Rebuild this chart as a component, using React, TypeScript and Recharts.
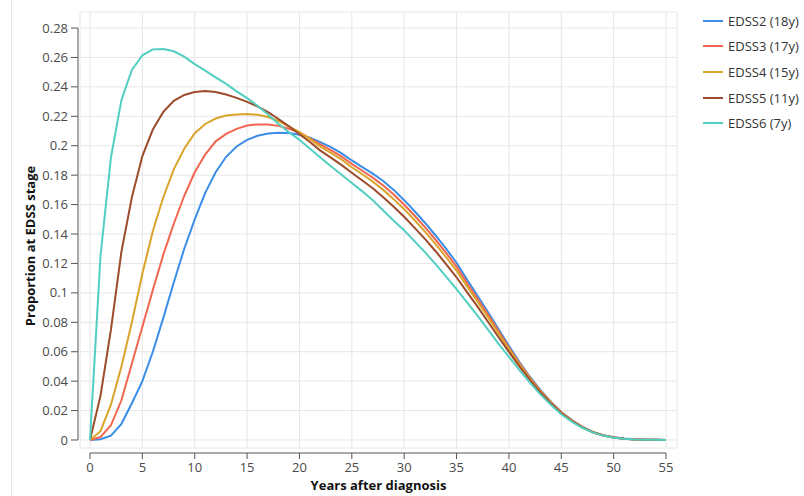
import React from 'react';
import { LineChart, Line, XAxis, YAxis, CartesianGrid, ReferenceLine, Legend, Label } from 'recharts';

const years = [
  0, 1, 2, 3, 4, 5, 6, 7, 8, 9, 10, 11, 12, 13, 14, 15, 16, 17, 18, 19, 20, 21, 22, 23, 24, 25, 26, 27,
  28, 29, 30, 31, 32, 33, 34, 35, 36, 37, 38, 39, 40, 41, 42, 43, 44, 45, 46, 47, 48, 49, 50, 51, 52, 53, 54, 55,
];

const edss2 = [
  0, 0.0005, 0.003, 0.011, 0.025, 0.04, 0.06, 0.083, 0.107, 0.13, 0.15, 0.168, 0.182, 0.1925, 0.1995, 0.204,
  0.2068, 0.2083, 0.2089, 0.2087, 0.2075, 0.2055, 0.2025, 0.199, 0.195, 0.19, 0.1855, 0.181, 0.176, 0.17, 0.163,
  0.1555, 0.1475, 0.139, 0.13, 0.1205, 0.109, 0.098, 0.087, 0.0755, 0.064, 0.053, 0.043, 0.034, 0.026, 0.019,
  0.0135, 0.009, 0.0055, 0.0032, 0.0018, 0.001, 0.0005, 0.0002, 0.0001, 0,
];

const edss3 = [
  0, 0.002, 0.01, 0.027, 0.052, 0.077, 0.102, 0.126, 0.147, 0.166, 0.182, 0.194, 0.203, 0.208, 0.2115, 0.2138,
  0.2145, 0.2145, 0.2135, 0.2115, 0.209, 0.205, 0.2009, 0.197, 0.1928, 0.1877, 0.183, 0.1783, 0.173, 0.1669, 0.1599,
  0.1524, 0.1445, 0.1361, 0.1272, 0.1178, 0.1067, 0.096, 0.0852, 0.074, 0.0629, 0.0522, 0.0424, 0.0336, 0.0257, 0.0188,
  0.0134, 0.0089, 0.0055, 0.0032, 0.0018, 0.0009, 0.0005, 0.0002, 0.0001, 0,
];

const edss4 = [
  0, 0.006, 0.024, 0.05, 0.08, 0.113, 0.142, 0.165, 0.184, 0.198, 0.2085, 0.2148, 0.2185, 0.2205, 0.2213, 0.2215,
  0.221, 0.2195, 0.2168, 0.2132, 0.2093, 0.2045, 0.1994, 0.1951, 0.1907, 0.1854, 0.1806, 0.1756, 0.17, 0.1637, 0.1569,
  0.1494, 0.1415, 0.1332, 0.1243, 0.1151, 0.1044, 0.094, 0.0834, 0.0725, 0.0618, 0.0514, 0.0418, 0.0331, 0.0254, 0.0186,
  0.0132, 0.0088, 0.0054, 0.0031, 0.0017, 0.0009, 0.0004, 0.0002, 0.0001, 0,
];

const edss5 = [
  0, 0.03, 0.075, 0.128, 0.165, 0.193, 0.211, 0.223, 0.2305, 0.2345, 0.2365, 0.2372, 0.2365, 0.2348, 0.2325, 0.2298,
  0.2268, 0.2228, 0.2182, 0.2132, 0.2078, 0.2025, 0.1967, 0.1919, 0.187, 0.1816, 0.1764, 0.1711, 0.165, 0.1585, 0.1517,
  0.1442, 0.1365, 0.1283, 0.1196, 0.1106, 0.1005, 0.0906, 0.0804, 0.07, 0.0599, 0.05, 0.0408, 0.0324, 0.0249, 0.0182,
  0.013, 0.0086, 0.0053, 0.0031, 0.0017, 0.0009, 0.0004, 0.0002, 0.0001, 0,
];

const edss6 = [
  0, 0.125, 0.192, 0.231, 0.2515, 0.2615, 0.2655, 0.2657, 0.2642, 0.2605, 0.2555, 0.251, 0.2465, 0.242, 0.237, 0.2324,
  0.2272, 0.2212, 0.2148, 0.2092, 0.204, 0.198, 0.192, 0.186, 0.1805, 0.1747, 0.169, 0.163, 0.156, 0.149, 0.1425,
  0.135, 0.1275, 0.1195, 0.111, 0.1025, 0.0935, 0.0845, 0.075, 0.0655, 0.0565, 0.0475, 0.039, 0.031, 0.024, 0.0175,
  0.0125, 0.0083, 0.0052, 0.003, 0.0016, 0.0008, 0.0004, 0.0002, 0.0001, 0,
];

const seriesNames = ['EDSS2 (18y)', 'EDSS3 (17y)', 'EDSS4 (15y)', 'EDSS5 (11y)', 'EDSS6 (7y)'];
const seriesKeys = ['edss2', 'edss3', 'edss4', 'edss5', 'edss6'];
const seriesValues = [edss2, edss3, edss4, edss5, edss6];
const seriesColors = ['#3a8ee8', '#f2664f', '#d9a42a', '#9c4b2b', '#52cfc2'];

const xTicks = [0, 5, 10, 15, 20, 25, 30, 35, 40, 45, 50, 55];
const yTicks = [0, 0.02, 0.04, 0.06, 0.08, 0.1, 0.12, 0.14, 0.16, 0.18, 0.2, 0.22, 0.24, 0.26, 0.28];

const xTitle = 'Years after diagnosis';
const yTitle = 'Proportion at EDSS stage';

// axis extents (data units) for the padded, offset axes
const X_DOMAIN: [number, number] = [-0.955, 56.05];
const Y_DOMAIN: [number, number] = [-0.00544, 0.2909];
const X_AXIS_AT_Y = -0.00884;
const Y_AXIS_AT_X = -1.146;

const data = years.map((year, i) => {
  const row: Record<string, number> = { year };
  seriesKeys.forEach((k, s) => {
    row[k] = seriesValues[s][i];
  });
  return row;
});

const AXIS_COLOR = '#555555';
const TICK_TEXT = '#4a4a4a';

const XTick = (props: any) => {
  const { x, y, payload } = props;
  return (
    <g>
      <line x1={x} x2={x} y1={y + 5} y2={y + 11} stroke={AXIS_COLOR} strokeWidth={1} />
      <text x={x} y={y + 24} textAnchor="middle" fill={TICK_TEXT} fontSize={13}>
        {payload.value}
      </text>
    </g>
  );
};

const YTick = (props: any) => {
  const { x, y, payload } = props;
  return (
    <g>
      <line x1={x - 9} x2={x - 2} y1={y} y2={y} stroke={AXIS_COLOR} strokeWidth={1} />
      <text x={x - 12} y={y} dy="0.35em" textAnchor="end" fill={TICK_TEXT} fontSize={13}>
        {payload.value}
      </text>
    </g>
  );
};

const renderLegend = (props: any) => {
  const payload = props.payload || [];
  return (
    <div>
      {payload.map((entry: any, i: number) => (
        <div
          key={i}
          style={{ display: 'flex', alignItems: 'center', height: 25.6, fontSize: 13, color: '#333' }}
        >
          <svg width={20} height={4} style={{ marginRight: 5 }}>
            <line x1={0} x2={20} y1={2} y2={2} stroke={entry.color} strokeWidth={2} />
          </svg>
          <span>{entry.value}</span>
        </div>
      ))}
    </div>
  );
};

export default function App() {
  return (
    <div
      style={{
        position: 'absolute',
        left: 0,
        top: 0,
        width: 804,
        height: 496,
        background: '#fff',
        fontFamily: '"Open Sans", "Noto Sans", sans-serif',
      }}
    >
      <div style={{ position: 'absolute', left: 11, top: 0, width: 1, height: 496, background: '#e8e8e8' }} />
      <LineChart width={804} height={496} data={data} margin={{ top: 12, right: 127, bottom: 0, left: 0 }}>
        <CartesianGrid stroke="#e6e6e6" strokeWidth={1} />
        <XAxis
          dataKey="year"
          type="number"
          domain={X_DOMAIN}
          ticks={xTicks}
          interval={0}
          height={48}
          axisLine={false}
          tickLine={false}
          tickSize={0}
          tickMargin={0}
          tick={<XTick />}
        >
          <Label
            value={xTitle}
            position="insideBottom"
            offset={6}
            style={{ fontWeight: 700, fontSize: 13, fill: '#111' }}
          />
        </XAxis>
        <YAxis
          type="number"
          domain={Y_DOMAIN}
          ticks={yTicks}
          interval={0}
          width={80}
          axisLine={false}
          tickLine={false}
          tickSize={0}
          tickMargin={0}
          tick={<YTick />}
        >
          <Label
            content={(p: any) => {
              const vb = p.viewBox || { x: 0, y: 0, width: 0, height: 0 };
              const cx = vb.x + 35;
              const cy = vb.y + vb.height / 2 + 16;
              return (
                <text
                  x={cx}
                  y={cy}
                  transform={`rotate(-90, ${cx}, ${cy})`}
                  textAnchor="middle"
                  fontWeight={700}
                  fontSize={13}
                  fill="#111"
                >
                  {yTitle}
                </text>
              );
            }}
          />
        </YAxis>
        <ReferenceLine
          segment={[
            { x: xTicks[0], y: X_AXIS_AT_Y },
            { x: xTicks[xTicks.length - 1], y: X_AXIS_AT_Y },
          ]}
          stroke={AXIS_COLOR}
          strokeWidth={1}
          ifOverflow="visible"
        />
        <ReferenceLine
          segment={[
            { x: Y_AXIS_AT_X, y: yTicks[0] },
            { x: Y_AXIS_AT_X, y: yTicks[yTicks.length - 1] },
          ]}
          stroke={AXIS_COLOR}
          strokeWidth={1}
          ifOverflow="visible"
        />
        {seriesKeys.map((k, s) => (
          <Line
            key={k}
            type="linear"
            dataKey={k}
            name={seriesNames[s]}
            stroke={seriesColors[s]}
            strokeWidth={2}
            dot={false}
            activeDot={false}
            isAnimationActive={false}
          />
        ))}
        <Legend
          layout="vertical"
          align="center"
          verticalAlign="middle"
          wrapperStyle={{ left: 703, top: 8, width: 100 }}
          content={renderLegend}
        />
      </LineChart>
    </div>
  );
}
